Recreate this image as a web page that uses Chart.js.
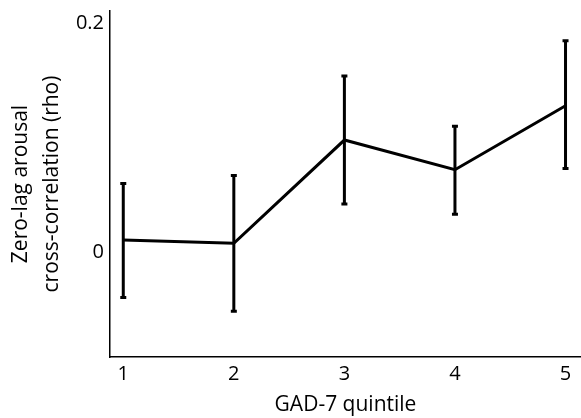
<!DOCTYPE html>
<html>
<head>
<meta charset="utf-8">
<script src="https://cdn.jsdelivr.net/npm/chart.js@4"></script>
<style>
  html, body { margin: 0; padding: 0; background: #fff; }
  #wrap { width: 581px; height: 418px; }
</style>
</head>
<body>
<div id="wrap"><canvas id="chart"></canvas></div>
<script>
// data
const quintiles = [1, 2, 3, 4, 5];
const rhoMean = [0.0105, 0.0076, 0.098, 0.072, 0.128];
const rhoUpper = [0.060, 0.067, 0.154, 0.110, 0.185];
const rhoLower = [-0.040, -0.052, 0.042, 0.033, 0.073];
const yTicks = [0, 0.2];

const FONT = "'Open Sans', sans-serif";

// error bars with small caps
const errorBars = {
  id: "errorBars",
  afterDatasetsDraw(chart) {
    const { ctx, scales } = chart;
    ctx.save();
    ctx.strokeStyle = "#000";
    ctx.lineWidth = 3;
    ctx.lineCap = "butt";
    for (let i = 0; i < quintiles.length; i++) {
      let x = scales.x.getPixelForValue(quintiles[i]);
      let yt = scales.y.getPixelForValue(rhoUpper[i]);
      let yb = scales.y.getPixelForValue(rhoLower[i]);
      ctx.beginPath();
      ctx.moveTo(x, yt);
      ctx.lineTo(x, yb);
      ctx.moveTo(x - 3, yt);
      ctx.lineTo(x + 3, yt);
      ctx.moveTo(x - 3, yb);
      ctx.lineTo(x + 3, yb);
      ctx.stroke();
    }
    ctx.restore();
  },
};

let points = quintiles.map((q, i) => ({ x: q, y: rhoMean[i] }));

new Chart(document.getElementById("chart"), {
  type: "line",
  data: {
    datasets: [{
      data: points,
      borderColor: "#000",
      borderWidth: 3,
      pointRadius: 0,
      tension: 0,
      fill: false,
    }],
  },
  options: {
    responsive: true,
    maintainAspectRatio: false,
    animation: false,
    layout: { padding: { top: 7, right: 0, left: 0, bottom: 0 } },
    plugins: { legend: { display: false }, tooltip: { enabled: false } },
    scales: {
      x: {
        type: "linear",
        min: 0.88,
        max: 5.14,
        afterBuildTicks: (s) => { s.ticks = quintiles.map(v => ({ value: v })); },
        afterFit: (s) => { s.height = 61; },
        grid: { display: false, drawTicks: false },
        border: { display: true, color: "#000", width: 1.5 },
        ticks: { color: "#000", font: { family: FONT, size: 20 }, padding: 5, maxRotation: 0 },
        title: {
          display: true,
          text: "GAD-7 quintile",
          color: "#000",
          font: { family: FONT, size: 21 },
          padding: { top: 0, bottom: 0 },
        },
      },
      y: {
        min: -0.092,
        max: 0.211,
        afterBuildTicks: (s) => { s.ticks = yTicks.map(v => ({ value: v })); },
        afterFit: (s) => { s.width = 110; },
        grid: { display: false, drawTicks: false },
        border: { display: true, color: "#000", width: 1.5 },
        ticks: {
          color: "#000",
          font: { family: FONT, size: 20, lineHeight: 0.5 },
          padding: 6,
          callback: (v) => (v === 0 ? "0" : String(v)),
        },
        title: {
          display: true,
          text: ["Zero-lag arousal", "cross-correlation (rho)"],
          color: "#000",
          font: { family: FONT, size: 21, lineHeight: 1.5 },
          padding: { top: 5, bottom: 0 },
        },
      },
    },
  },
  plugins: [errorBars],
});
</script>
</body>
</html>
